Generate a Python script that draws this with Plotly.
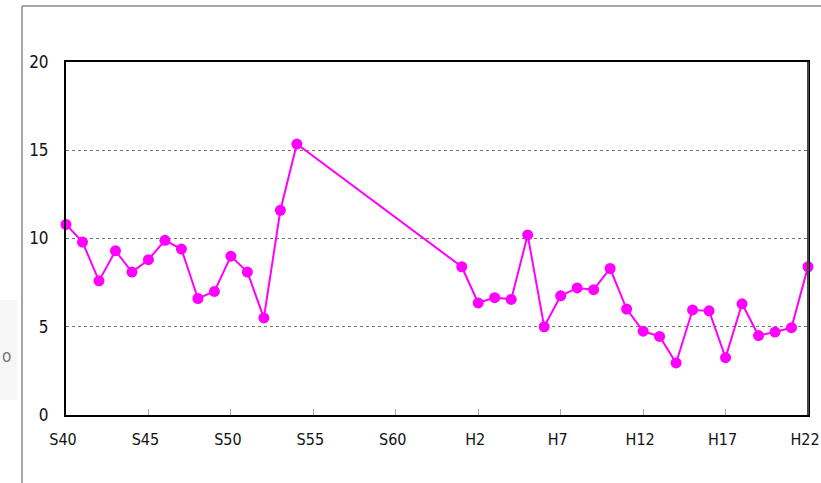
import plotly.graph_objects as go

# Data
labels = ["S40", "S41", "S42", "S43", "S44", "S45", "S46", "S47", "S48", "S49",
          "S50", "S51", "S52", "S53", "S54",
          "H1", "H2", "H3", "H4", "H5", "H6", "H7", "H8", "H9", "H10",
          "H11", "H12", "H13", "H14", "H15", "H16", "H17", "H18", "H19", "H20",
          "H21", "H22"]
years = [1965, 1966, 1967, 1968, 1969, 1970, 1971, 1972, 1973, 1974,
         1975, 1976, 1977, 1978, 1979,
         1989, 1990, 1991, 1992, 1993, 1994, 1995, 1996, 1997, 1998,
         1999, 2000, 2001, 2002, 2003, 2004, 2005, 2006, 2007, 2008,
         2009, 2010]
values = [10.8, 9.8, 7.6, 9.3, 8.1, 8.8, 9.9, 9.4, 6.6, 7.0,
          9.0, 8.1, 5.5, 11.6, 15.35,
          8.4, 6.35, 6.65, 6.55, 10.2, 5.0, 6.75, 7.2, 7.1, 8.3,
          6.0, 4.75, 4.45, 2.95, 5.95, 5.9, 3.25, 6.3, 4.5, 4.7,
          4.95, 8.4]

tick_years = [1965, 1970, 1975, 1980, 1985, 1990, 1995, 2000, 2005, 2010]
tick_labels = ["S40", "S45", "S50", "S55", "S60", "H2", "H7", "H12", "H17", "H22"]

FONT = "DejaVu Sans Condensed, Liberation Sans Narrow, sans-serif"

fig = go.Figure()
fig.add_trace(go.Scatter(
    x=years, y=values, mode="lines+markers",
    line=dict(color="#FF00FF", width=2),
    marker=dict(color="#FF00FF", size=11),
    cliponaxis=False,
    hoverinfo="x+y",
    text=labels,
))

L, R, T, B = 66, 13, 62, 68
W, H = 821, 483
pw = W - L - R
ph = H - T - B

def px2paper_x(px):
    return (px - L) / pw

def px2paper_y(py):
    return (H - B - py) / ph

fig.update_layout(
    width=W, height=H,
    margin=dict(l=L, r=R, t=T, b=B, pad=0, autoexpand=False),
    paper_bgcolor="white", plot_bgcolor="white",
    showlegend=False,
    font=dict(family=FONT, size=16, color="#111"),
    xaxis=dict(
        range=[1965, 2010], tickmode="array", tickvals=tick_years, ticktext=tick_labels,
        showgrid=False, zeroline=False, automargin=False,
        showline=True, linecolor="#000", linewidth=2, mirror=True,
        ticks="inside", ticklen=6, tickcolor="#aaa", tickwidth=1,
        ticklabelstandoff=9, ticklabeloverflow="allow", ticklabelshift=-3,
        tickfont=dict(family=FONT, size=16, color="#111"),
    ),
    yaxis=dict(
        range=[0, 20], tickmode="array", tickvals=[0, 5, 10, 15, 20],
        showgrid=True, gridcolor="#777", griddash="dot", gridwidth=1,
        zeroline=False, automargin=False,
        showline=True, linecolor="#000", linewidth=2, mirror=True,
        ticks="", ticklabelstandoff=12,
        tickfont=dict(family=FONT, size=17, color="#111"),
    ),
    shapes=[
        dict(type="rect", xref="paper", yref="paper",
             x0=px2paper_x(0), x1=px2paper_x(17), y0=px2paper_y(400), y1=px2paper_y(300),
             fillcolor="#f6f6f6", line=dict(width=0), layer="below"),
        dict(type="line", xref="paper", yref="paper",
             x0=px2paper_x(22), x1=px2paper_x(821), y0=px2paper_y(6), y1=px2paper_y(6),
             line=dict(color="#8a8a8a", width=1.5)),
        dict(type="line", xref="paper", yref="paper",
             x0=px2paper_x(22), x1=px2paper_x(22), y0=px2paper_y(6), y1=px2paper_y(483),
             line=dict(color="#8a8a8a", width=1.5)),
        dict(type="line", xref="paper", yref="paper",
             x0=1, x1=1, y0=0, y1=1,
             line=dict(color="#444", width=2)),
    ],
    annotations=[
        dict(text="o", xref="paper", yref="paper", x=px2paper_x(6), y=px2paper_y(356),
             showarrow=False, font=dict(family=FONT, size=17, color="#777"),
             xanchor="center", yanchor="middle"),
    ],
)

fig.write_html("out.html", config={"displayModeBar": False},
               post_script="document.body.style.margin='0';document.body.style.overflow='hidden';")
